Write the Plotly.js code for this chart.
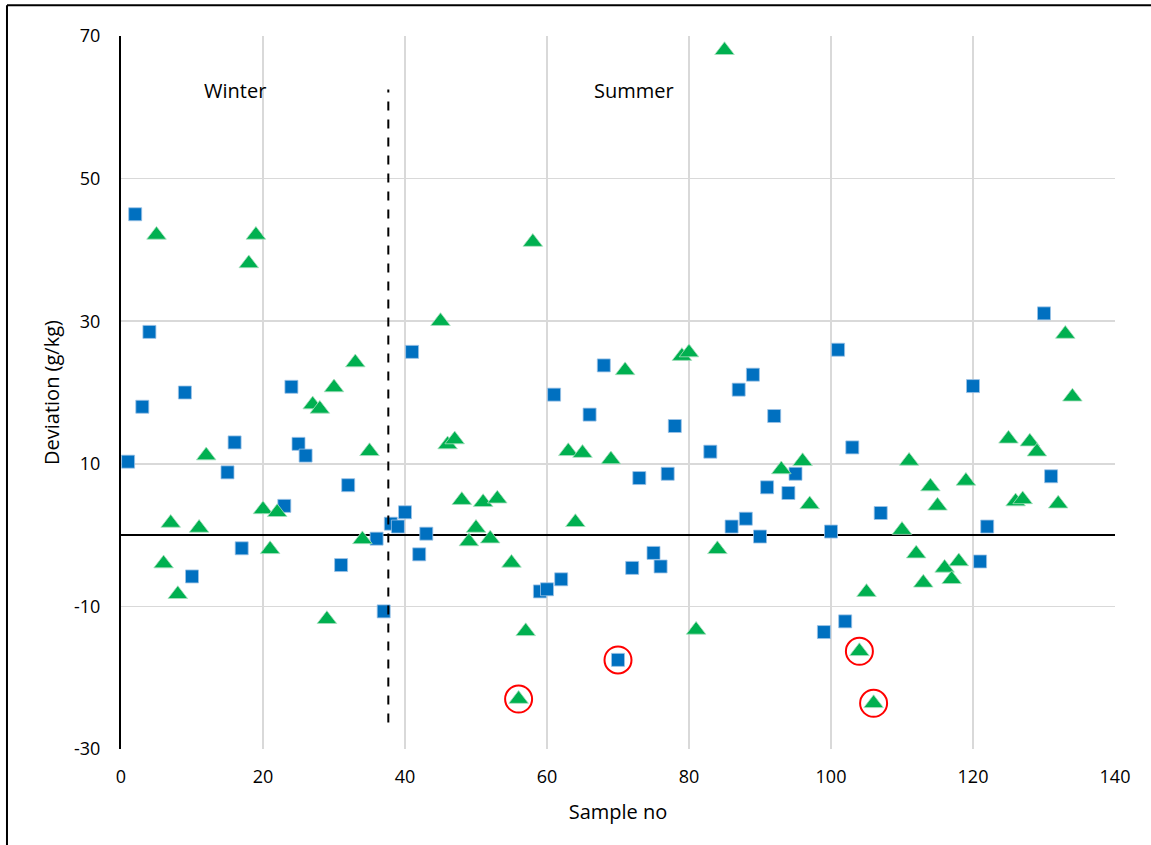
<!DOCTYPE html>
<html>
<head>
<meta charset="utf-8">
<script src="https://cdn.plot.ly/plotly-3.0.1.min.js"></script>
<style>
  html, body { margin: 0; padding: 0; background: #ffffff; }
  #chart { width: 1151px; height: 845px; }
</style>
</head>
<body>
<div id="chart"></div>
<script>
// Blue squares series
const squareSample = [1, 2, 3, 4, 9, 10, 15, 16, 17, 23, 24, 25, 26, 31, 32, 36, 37, 38, 39, 40, 41, 42, 43,
  59, 60, 61, 62, 66, 68, 70, 72, 73, 75, 76, 77, 78, 83, 86, 87, 88, 89, 90, 91, 92, 94, 95,
  99, 100, 101, 102, 103, 107, 120, 121, 122, 130, 131];
const squareDeviation = [10.3, 45.0, 18.0, 28.5, 20.0, -5.8, 8.8, 13.0, -1.85, 4.1, 20.8, 12.8, 11.15, -4.2, 7.0, -0.5, -10.7, 1.6, 1.2, 3.2, 25.7, -2.7, 0.2,
  -7.9, -7.6, 19.7, -6.2, 16.9, 23.8, -17.5, -4.6, 8.0, -2.5, -4.4, 8.6, 15.3, 11.7, 1.2, 20.4, 2.3, 22.5, -0.2, 6.7, 16.7, 5.9, 8.6,
  -13.6, 0.5, 26.0, -12.1, 12.3, 3.1, 20.9, -3.7, 1.2, 31.1, 8.25];

// Green triangles series
const triangleSample = [5, 6, 7, 8, 11, 12, 18, 19, 20, 21, 22, 27, 28, 29, 30, 33, 34, 35,
  45, 46, 47, 48, 49, 50, 51, 52, 53, 55, 56, 57, 58, 63, 64, 65, 69, 71, 79, 80, 81, 84, 85,
  93, 96, 97, 104, 105, 106, 110, 111, 112, 113, 114, 115, 116, 117, 118, 119,
  125, 126, 127, 128, 129, 132, 133, 134];
const triangleDeviation = [42.1, -4.0, 1.7, -8.3, 1.0, 11.15, 38.1, 42.1, 3.6, -2.0, 3.2, 18.3, 17.7, -11.8, 20.7, 24.2, -0.6, 11.75,
  30.0, 12.7, 13.4, 4.9, -0.9, 1.0, 4.6, -0.5, 5.1, -3.9, -23.0, -13.5, 41.1, 11.75, 1.8, 11.5, 10.6, 23.1, 25.1, 25.6, -13.3, -2.0, 68.0,
  9.2, 10.35, 4.3, -16.3, -8.0, -23.6, 0.7, 10.4, -2.6, -6.7, 6.8, 4.1, -4.6, -6.2, -3.7, 7.6,
  13.5, 4.7, 5.0, 13.1, 11.7, 4.4, 28.2, 19.4];

// Highlighted (circled) outliers
const outlierSample = [56, 70, 104, 106];
const outlierDeviation = [-23.0, -17.5, -16.3, -23.6];

// Season divider and labels
const dividerSample = 37.65;
const dividerRange = [-26.3, 62.5];
const seasonLabels = ["Winter", "Summer"];
const seasonLabelSample = [16, 72.3];
const seasonLabelDeviation = [62.3, 62.3];

// Axis ticks
const xTicks = [0, 20, 40, 60, 80, 100, 120, 140];
const yTicks = [-30, -10, 10, 30, 50, 70];

const FONT = "Open Sans, Noto Sans, Liberation Sans, sans-serif";

const traces = [
  {
    x: squareSample, y: squareDeviation, type: "scatter", mode: "markers",
    marker: { symbol: "square", size: 13, color: "#0070C0", line: { color: "#9DC3E6", width: 0.8 } },
    hoverinfo: "skip"
  },
  {
    x: triangleSample, y: triangleDeviation, type: "scatter", mode: "markers",
    marker: { symbol: "triangle-up", size: 17, color: "#00B050", line: { color: "#A9DFBF", width: 0.8 } },
    hoverinfo: "skip"
  },
  {
    x: outlierSample, y: outlierDeviation, type: "scatter", mode: "markers",
    marker: { symbol: "circle-open", size: 27, color: "#FF0000", line: { color: "#FF0000", width: 2 } },
    hoverinfo: "skip"
  }
];

const annotations = seasonLabels.map((t, i) => ({
  x: seasonLabelSample[i], y: seasonLabelDeviation[i], xref: "x", yref: "y",
  text: t, showarrow: false, font: { family: FONT, size: 20, color: "#000000" }
}));

const layout = {
  width: 1151, height: 845,
  margin: { l: 121, r: 36, t: 36, b: 96 },
  paper_bgcolor: "#ffffff", plot_bgcolor: "#ffffff",
  showlegend: false,
  hovermode: false,
  font: { family: FONT, size: 18, color: "#000000" },
  xaxis: {
    range: [0, 140], tickvals: xTicks, ticktext: xTicks.map(String),
    showgrid: true, gridcolor: "#D9D9D9", gridwidth: 1.5,
    zeroline: false, showline: false,
    ticks: "", ticklabelstandoff: 15,
    tickfont: { family: FONT, size: 18, color: "#000000" },
    title: { text: "Sample no", font: { family: FONT, size: 20, color: "#000000" }, standoff: 17 }
  },
  yaxis: {
    range: [-30, 70], tickvals: yTicks, ticktext: yTicks.map(String),
    showgrid: true, gridcolor: "#D9D9D9", gridwidth: 1.5,
    zeroline: true, zerolinecolor: "#000000", zerolinewidth: 1.5,
    showline: true, linecolor: "#000000", linewidth: 2,
    ticks: "", ticklabelstandoff: 15,
    tickfont: { family: FONT, size: 18, color: "#000000" },
    title: { text: "Deviation (g/kg)", font: { family: FONT, size: 20, color: "#000000" }, standoff: 9 }
  },
  annotations: annotations,
  shapes: [
    {
      type: "line", xref: "x", yref: "y",
      x0: dividerSample, x1: dividerSample, y0: dividerRange[0], y1: dividerRange[1],
      line: { color: "#000000", width: 2, dash: "dash" }
    },
    {
      type: "line", xref: "paper", yref: "paper",
      x0: -0.1147, x1: -0.1147, y0: -0.14, y1: 1.043,
      line: { color: "#000000", width: 2 }
    },
    {
      type: "line", xref: "paper", yref: "paper",
      x0: -0.1147, x1: 1.04, y0: 1.043, y1: 1.043,
      line: { color: "#000000", width: 2 }
    }
  ]
};

Plotly.newPlot("chart", traces, layout, { staticPlot: true, displayModeBar: false });
</script>
</body>
</html>
